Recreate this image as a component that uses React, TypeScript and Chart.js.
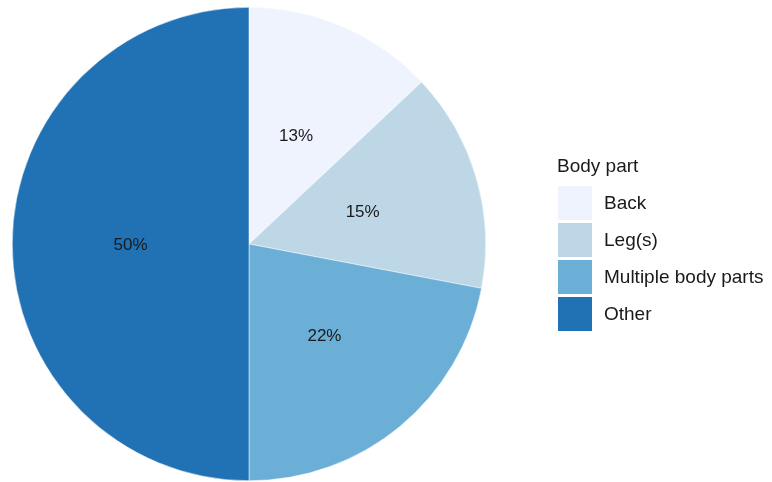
import React, { useEffect, useRef } from "react";
import { Chart, registerables } from "chart.js";

Chart.register(...registerables);

const categories = ["Back", "Leg(s)", "Multiple body parts", "Other"];
const values = [13, 15, 22, 50];
const colors = ["#eef3fe", "#bdd7e7", "#6baed6", "#2171b5"];
const legendTitle = "Body part";

const labelPlugin = {
  id: "pctLabels",
  afterDatasetsDraw(chart: any) {
    const ctx = chart.ctx;
    const meta = chart.getDatasetMeta(0);
    ctx.save();
    ctx.font = "17px 'Liberation Sans', Arial, sans-serif";
    ctx.fillStyle = "#1a1a1a";
    ctx.textAlign = "center";
    ctx.textBaseline = "middle";
    meta.data.forEach((arc: any, i: number) => {
      const p = arc.getCenterPoint();
      ctx.fillText(values[i] + "%", p.x, p.y + 1);
    });
    ctx.restore();
  },
};

export default function App() {
  const ref = useRef<HTMLCanvasElement>(null);
  useEffect(() => {
    const chart = new Chart(ref.current!, {
      type: "pie",
      data: {
        labels: categories,
        datasets: [
          {
            data: values,
            backgroundColor: colors,
            borderColor: "#ffffff",
            borderWidth: 0.5,
          },
        ],
      },
      options: {
        animation: false,
        responsive: false,
        layout: { padding: { top: 7, bottom: 1, left: 12, right: 286 } },
        plugins: { legend: { display: false }, tooltip: { enabled: false } },
      },
      plugins: [labelPlugin],
    });
    return () => chart.destroy();
  }, []);

  const font = "'Liberation Sans', Arial, sans-serif";
  return (
    <div style={{ position: "fixed", left: 0, top: 0, width: 772, height: 482, background: "#fff" }}>
      <canvas ref={ref} width={772} height={482} style={{ position: "absolute", left: 0, top: 0 }} />
      <div style={{ position: "absolute", left: 557, top: 155, fontFamily: font, fontSize: 19, color: "#1a1a1a", lineHeight: "22px", whiteSpace: "nowrap" }}>
        {legendTitle}
      </div>
      {categories.map((c, i) => (
        <div key={c} style={{ position: "absolute", left: 558, top: 186 + i * 37, height: 34, display: "flex", alignItems: "center", whiteSpace: "nowrap" }}>
          <div style={{ width: 34, height: 34, background: colors[i] }} />
          <div style={{ marginLeft: 12, fontFamily: font, fontSize: 19, color: "#1a1a1a" }}>{c}</div>
        </div>
      ))}
    </div>
  );
}
